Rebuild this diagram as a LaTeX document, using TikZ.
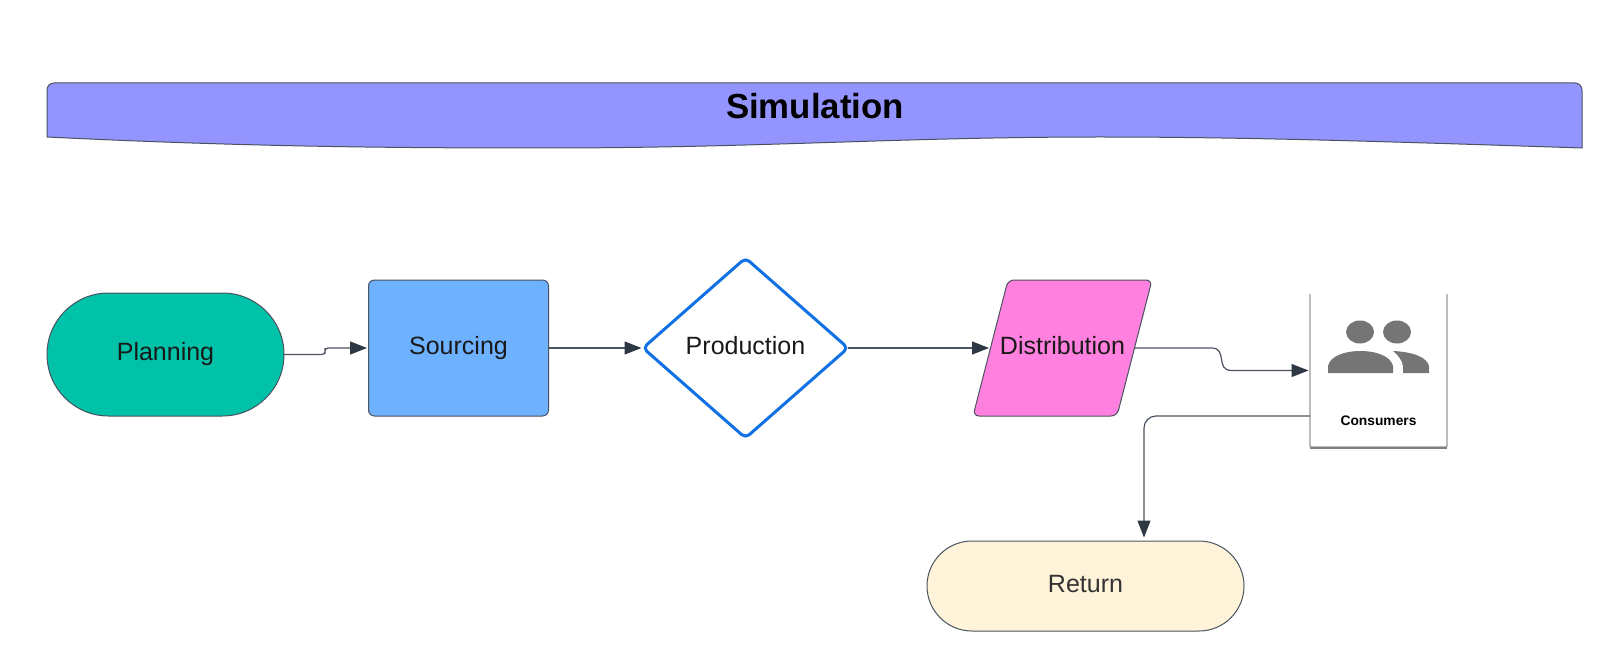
\documentclass[tikz,border=0pt]{standalone}
\usepackage{fontspec}
\setmainfont{Liberation Sans}
\usetikzlibrary{arrows.meta,shapes.geometric,shapes.misc}

\definecolor{bannerblue}{HTML}{9494FF}
\definecolor{planninggreen}{HTML}{00C2A8}
\definecolor{sourcingblue}{HTML}{6DB1FF}
\definecolor{diamondblue}{HTML}{1071E5}
\definecolor{distpink}{HTML}{FF80DF}
\definecolor{returncream}{HTML}{FFF3D9}
\definecolor{edgegrey}{HTML}{4A5260}
\definecolor{tipdark}{HTML}{2E3744}
\definecolor{icongrey}{HTML}{757575}

\begin{document}
\begin{tikzpicture}[x=1pt,y=-1pt,
  >={Triangle[length=17pt,width=13pt,color=tipdark]},
  box/.style={draw=edgegrey,line width=1pt,inner sep=0pt,outer sep=0pt,text=black!90,
    text height=18pt,text depth=5pt,font=\fontsize{25}{30}\selectfont},
  flow/.style={->,draw=edgegrey,line width=1.2pt,shorten >=1.5pt}]

\useasboundingbox (0,0) rectangle (1600,652);

%==== banner ====
\draw[edgegrey,line width=1pt,fill=bannerblue]
  (47,137) [rounded corners=7pt] -- (47,83) -- (1582,83) [sharp corners] -- (1582,148)
  .. controls (1400,142) and (1250,137) .. (1100,137)
  .. controls (900,137) and (760,148) .. (545,148)
  .. controls (400,148) and (250,147) .. (47,137) -- cycle;
\node[font=\bfseries\fontsize{34.8}{40}\selectfont,text=black] (simulation) at (815,106) {Simulation};

%==== flow nodes ====
\node[box,text depth=7pt,fill=planninggreen,rounded rectangle,minimum width=237pt,minimum height=123pt] (planning) at (165.5,354.5) {Planning};
\node[box,fill=sourcingblue,rectangle,rounded corners=6pt,minimum width=180pt,minimum height=136pt] (sourcing) at (458.5,348) {Sourcing};
\node[box,draw=diamondblue,line width=3pt,fill=white,diamond,aspect=1.14,rounded corners=5pt,minimum width=205pt,minimum height=180pt] (production) at (745.5,348) {Production};

% parallelogram
\draw[edgegrey,line width=1pt,fill=distpink,rounded corners=6pt]
  (973,416) -- (1008,280) -- (1152,280) -- (1117,416) -- cycle;
\node[inner sep=0pt,outer sep=0pt,text=black!90,text height=18pt,text depth=5pt,font=\fontsize{25}{30}\selectfont,
  minimum width=144pt,minimum height=136pt] (distribution) at (1062.5,348) {Distribution};

\node[box,text=black!80,fill=returncream,rounded rectangle,minimum width=317pt,minimum height=90pt] (return) at (1085.5,586) {Return};

%==== consumers card ====
\node[rectangle,minimum width=137pt,minimum height=153pt,inner sep=0pt,outer sep=0pt] (consumers) at (1378.5,370.5) {};
\draw[black!40,line width=1.2pt,rounded corners=1pt]
  (consumers.north west) -- (consumers.south west) -- (consumers.south east) -- (consumers.north east);
\draw[black!50,line width=1.5pt] ([yshift=-1.2pt]consumers.south west) -- ([yshift=-1.2pt]consumers.south east);
\fill[icongrey] (1360,332) ellipse (14 and 11.5);
\fill[icongrey] (1397,332) ellipse (14 and 11.5);
\fill[icongrey] (1328,373) -- (1328,366) .. controls (1330,356) and (1345,351) .. (1360,351)
  .. controls (1378,351) and (1391,357) .. (1393,366) -- (1393,373) -- cycle;
\fill[icongrey] (1393,351) .. controls (1415,352) and (1427,358) .. (1429,366) -- (1429,373) -- (1403,373)
  -- (1403,366) .. controls (1402,360) and (1398,355) .. (1393,351) -- cycle;
\node[font=\bfseries\fontsize{13.8}{16}\selectfont,text=black] (consumerslabel) at (1378.5,420.5) {Consumers};

%==== connectors ====
\coordinate (jogsourcing) at (325,351);
\coordinate (consumersout) at (1310,416);
\coordinate (returnin) at (1144,539);

\draw[flow,rounded corners=3pt] (planning.east) -| (jogsourcing) |- (sourcing.west);
\draw[flow] (sourcing.east) -- (production.west);
\draw[flow] (production.east) -- (distribution.west);
\draw[flow] (distribution.east) -- ++(77,0) to[out=0,in=180,looseness=1.4] ++(20,22.5) -- (consumers.west);
\draw[flow,rounded corners=12pt] (consumersout) -| (returnin);

\end{tikzpicture}
\end{document}
